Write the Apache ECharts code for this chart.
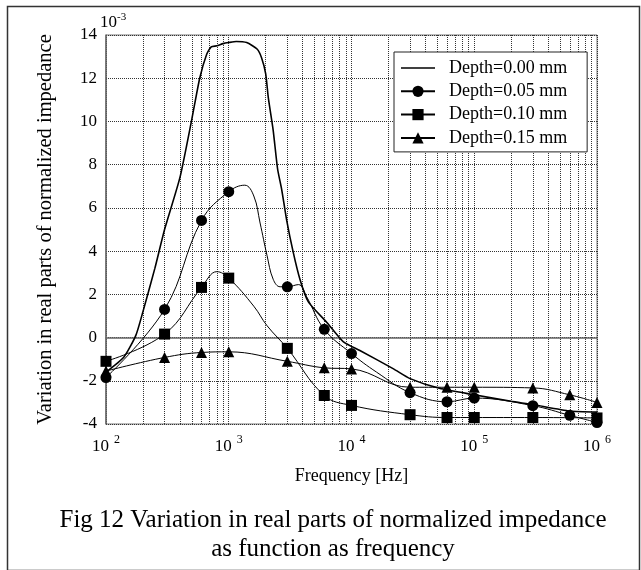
<!DOCTYPE html>
<html><head><meta charset="utf-8">
<script src="https://cdn.jsdelivr.net/npm/echarts@6/dist/echarts.min.js"></script>
<style>html,body{margin:0;padding:0;background:#fff}#c{width:641px;height:570px}</style>
</head><body><div id="c"></div>
<script>
const seriesNames = ['Depth=0.00 mm', 'Depth=0.05 mm', 'Depth=0.10 mm', 'Depth=0.15 mm'];

// Depth=0.00 mm (no markers)
const freq000 = [100, 140, 175, 200, 250, 300, 400, 500, 580, 660, 720, 800, 900, 1000, 1150, 1400, 1700, 1850, 2000, 2100, 2300, 2500, 2700, 2960, 3350, 3800, 4450, 6300, 8600, 11700, 22000, 30000, 52000, 100000, 200000, 300000, 600000, 1000000];
const val000  = [-1.6, -0.9, 0.1, 1.2, 3.2, 5.0, 7.4, 10.1, 12.0, 13.1, 13.45, 13.5, 13.6, 13.65, 13.7, 13.65, 13.35, 12.95, 12.2, 11.1, 9.6, 7.8, 6.85, 5.45, 3.95, 2.7, 1.65, 0.7, -0.2, -0.6, -1.45, -1.9, -2.35, -2.65, -2.95, -3.1, -3.4, -3.45];

// Depth=0.05 mm (circles); mark = 1 where a marker is drawn
const freq005 = [100, 300, 600, 1000, 1350, 1600, 1800, 2050, 2300, 2620, 3000, 3700, 4300, 6000, 10000, 16000, 30000, 60000, 100000, 300000, 600000, 1000000];
const val005  = [-1.85, 1.3, 5.42, 6.75, 7.05, 6.55, 5.3, 3.8, 2.7, 2.35, 2.35, 2.45, 1.9, 0.38, -0.74, -1.6, -2.55, -2.97, -2.8, -3.15, -3.6, -3.93];
const mark005 = [1, 1, 1, 1, 0, 0, 0, 0, 0, 0, 1, 0, 0, 1, 1, 0, 1, 1, 1, 1, 1, 1];

// Depth=0.10 mm (squares)
const freq010 = [100, 300, 600, 800, 1000, 1600, 2050, 3000, 6000, 10000, 30000, 60000, 100000, 300000, 1000000];
const val010  = [-1.1, 0.16, 2.32, 3.05, 2.75, 1.45, 0.55, -0.5, -2.68, -3.14, -3.57, -3.7, -3.7, -3.7, -3.72];
const mark010 = [1, 1, 1, 0, 1, 0, 0, 1, 1, 1, 1, 1, 1, 1, 1];

// Depth=0.15 mm (triangles)
const freq015 = [100, 300, 600, 1000, 3000, 6000, 10000, 30000, 60000, 100000, 300000, 600000, 1000000];
const val015  = [-1.55, -0.92, -0.69, -0.66, -1.1, -1.4, -1.45, -2.3, -2.3, -2.3, -2.33, -2.65, -3.0];
const mark015 = [1, 1, 1, 1, 1, 1, 1, 1, 1, 1, 1, 1, 1];

// minor log grid lines (2..9 per decade)
const minorGridFreqs = [200,300,400,500,600,700,800,900,2000,3000,4000,5000,6000,7000,8000,9000,20000,30000,40000,50000,60000,70000,80000,90000,200000,300000,400000,500000,600000,700000,800000,900000];
const yMin = -4, yMax = 14, yStep = 2;

const captionLines = ['Fig 12 Variation in real parts of normalized impedance', 'as function as frequency'];

const FONT = '"Liberation Serif", "Times New Roman", serif';

function build(f, v, m) {
  return f.map((x, i) => {
    const d = { value: [x, v[i]] };
    if (m && !m[i]) d.symbol = 'none';
    return d;
  });
}

const chart = echarts.init(document.getElementById('c'), null, { renderer: 'canvas' });
const gridLine = { color: '#333', width: 1, type: [1, 1] };

chart.setOption({
  animation: false,
  backgroundColor: '#fff',
  grid: { left: 106, right: 44, top: 35, bottom: 146, show: true, borderColor: '#777', borderWidth: 1 },
  legend: {
    left: 394, top: 52, orient: 'vertical',
    padding: [7, 20, 5, 6],
    itemWidth: 34, itemHeight: 14, itemGap: 5.3,
    symbolKeepAspect: true,
    borderColor: '#222', borderWidth: 1, backgroundColor: '#fff',
    textStyle: { fontFamily: FONT, fontSize: 18, color: '#000', padding: [0, 0, 0, 9] },
    data: [
      { name: seriesNames[0], icon: 'path://M0,0H34V1.4H0Z', itemStyle: { color: '#000' } },
      seriesNames[1], seriesNames[2], seriesNames[3]
    ]
  },
  xAxis: {
    type: 'log', logBase: 10, min: 100, max: 1000000,
    axisLine: { lineStyle: { color: '#666', width: 1.5 } },
    axisTick: { show: false },
    splitLine: { show: true, lineStyle: gridLine },
    axisLabel: {
      margin: 10,
      formatter: v => '{b|10}{s|' + Math.round(Math.log10(v)) + '}',
      rich: {
        b: { fontFamily: FONT, fontSize: 17, color: '#000', lineHeight: 26 },
        s: { fontFamily: FONT, fontSize: 12, color: '#000', lineHeight: 10, verticalAlign: 'top', padding: [0, 0, 0, 5] }
      }
    },
    name: 'Frequency [Hz]', nameLocation: 'middle', nameGap: 43,
    nameTextStyle: { fontFamily: FONT, fontSize: 18, color: '#000' }
  },
  yAxis: {
    type: 'value', min: yMin, max: yMax, interval: yStep,
    axisLine: { show: true, lineStyle: { color: '#666', width: 1.5 } },
    axisTick: { show: false },
    splitLine: { show: true, lineStyle: gridLine },
    axisLabel: { margin: 9, fontFamily: FONT, fontSize: 17, color: '#000' },
    name: 'Variation in real parts of normalized impedance', nameLocation: 'middle', nameGap: 50,
    nameTextStyle: { fontFamily: FONT, fontSize: 20.5, color: '#000' }
  },
  graphic: [
    { type: 'rect', left: 5, top: 4, shape: { width: 632, height: 564 }, style: { fill: 'none', stroke: '#333', lineWidth: 1.5 }, z: -1, silent: true },
    { type: 'text', left: 100, top: 12, style: { text: '{b|10}{s|-3}', rich: {
        b: { fontFamily: FONT, fontSize: 17, fill: '#000', lineHeight: 22 },
        s: { fontFamily: FONT, fontSize: 11, fill: '#000', lineHeight: 10, verticalAlign: 'top' } } } },
    { type: 'text', x: 333, y: 508, style: { text: captionLines[0], fontFamily: FONT, fontSize: 25, fill: '#000', align: 'center', verticalAlign: 'top' } },
    { type: 'text', x: 333, y: 537, style: { text: captionLines[1], fontFamily: FONT, fontSize: 25, fill: '#000', align: 'center', verticalAlign: 'top' } }
  ],
  series: [
    {
      name: seriesNames[0], type: 'line', smooth: 0.2, symbol: 'none', showSymbol: false,
      lineStyle: { color: '#000', width: 1.6 }, itemStyle: { color: '#000' },
      data: build(freq000, val000, null),
      markLine: {
        silent: true, symbol: ['none', 'none'], label: { show: false },
        lineStyle: { color: '#333', width: 1, type: [1, 1] },
        data: minorGridFreqs.map(f => ({ xAxis: f })),
        z: 1
      }
    },
    {
      name: seriesNames[1], type: 'line', smooth: 0.4, symbol: 'circle', symbolSize: 11,
      lineStyle: { color: '#000', width: 1 }, itemStyle: { color: '#000' },
      data: build(freq005, val005, mark005)
    },
    {
      name: seriesNames[2], type: 'line', smooth: 0.4, symbol: 'rect', symbolSize: 11,
      lineStyle: { color: '#000', width: 1 }, itemStyle: { color: '#000' },
      data: build(freq010, val010, mark010)
    },
    {
      name: seriesNames[3], type: 'line', smooth: 0.4, symbol: 'triangle', symbolSize: 11,
      lineStyle: { color: '#000', width: 1 }, itemStyle: { color: '#000' },
      data: build(freq015, val015, mark015)
    }
  ]
});
</script></body></html>
